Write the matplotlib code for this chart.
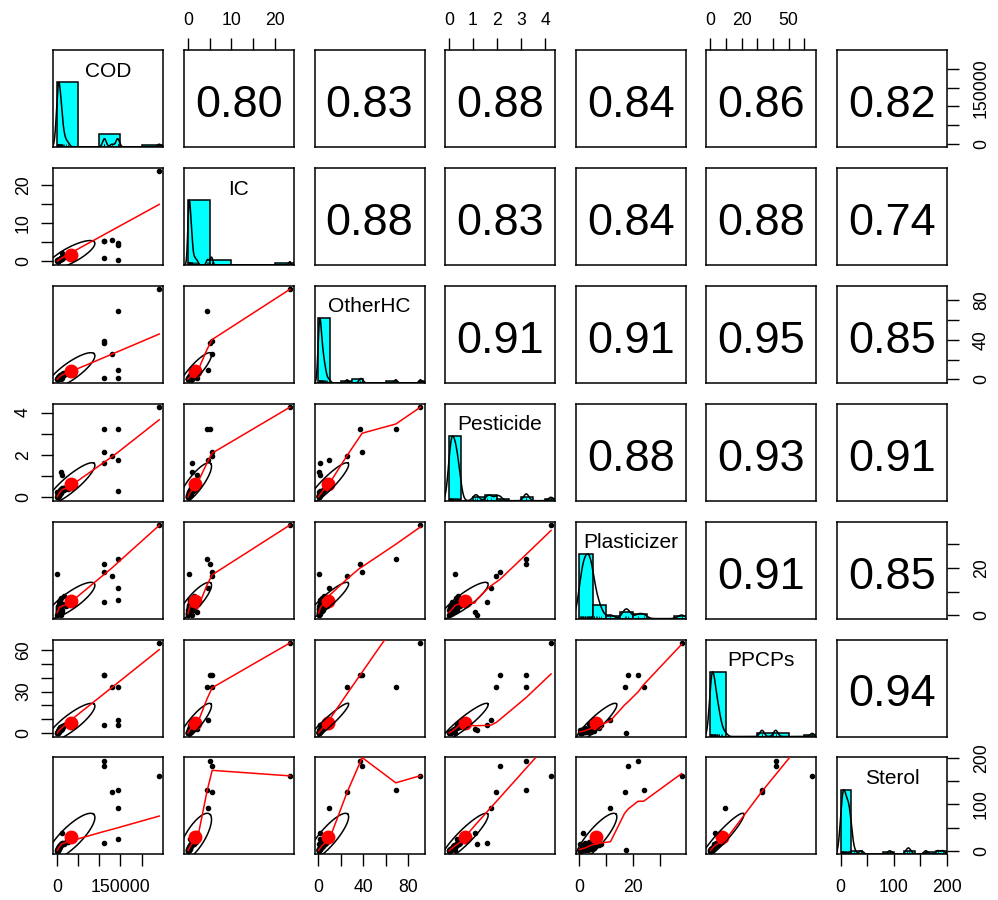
import numpy as np
import matplotlib
matplotlib.use("Agg")
import matplotlib.pyplot as plt
from matplotlib.patches import Rectangle

plt.rcParams['font.family'] = ['Liberation Sans', 'DejaVu Sans']

names = ['COD', 'IC', 'OtherHC', 'Pesticide', 'Plasticizer', 'PPCPs', 'Sterol']

# one value per sample
# first 11 are the samples that stand out, the rest sit in the cluster near 0
cod = [242000, 112000, 112000, 112000, 130000, 143500, 143500, 143500, 500, 11000, 9000,
       400, 700, 900, 1100, 1300, 1600, 1800, 2000, 2200, 2500, 2700, 3000, 3300, 3600,
       4000, 4400, 4800, 5200, 5700, 6200, 6800, 7400, 8100, 8900, 9800, 11000, 12500,
       14500, 17000, 21000, 26000]
ic = [23.5, 5.2, 5.45, 0.85, 5.6, 4.4, 4.7, 0.45, 0.3, 2.2, 0.9,
      0.02, 0.05, 0.12, 0.08, 0.18, 0.10, 0.22, 0.15, 0.30, 0.20, 0.35, 0.26, 0.40, 0.33,
      0.45, 0.28, 0.52, 0.38, 0.60, 0.48, 0.70, 0.55, 0.80, 0.65, 0.95, 0.75, 1.10,
      0.90, 1.30, 1.55, 1.80]
otherhc = [91, 37, 39, 1.7, 25.5, 69, 9.6, 1.7, 0.5, 1.0, 0.4,
           0.1, 0.3, 0.2, 0.6, 0.4, 0.9, 0.5, 1.2, 0.8, 1.5, 0.7, 1.9, 1.1, 2.3,
           1.4, 2.8, 1.7, 3.2, 2.1, 3.7, 2.5, 4.2, 2.9, 4.8, 3.4, 5.5, 3.9,
           6.3, 4.6, 7.4, 5.8]
pesticide = [4.25, 3.22, 2.13, 1.60, 1.97, 3.22, 1.74, 0.32, 0.26, 1.07, 1.18,
             0.01, 0.03, 0.05, 0.02, 0.07, 0.09, 0.04, 0.12, 0.06, 0.15, 0.10, 0.18, 0.08, 0.21,
             0.14, 0.24, 0.11, 0.27, 0.19, 0.30, 0.16, 0.34, 0.22, 0.38, 0.28, 0.42, 0.32,
             0.46, 0.36, 0.48, 0.40]
plasticizer = [38.0, 21.8, 18.2, 5.5, 16.8, 23.9, 11.6, 6.7, 17.5, 1.3, 0.2,
               0.3, 1.1, 0.6, 2.3, 1.5, 0.9, 3.1, 2.0, 4.2, 1.3, 2.7, 3.6, 0.8, 4.6,
               2.5, 3.3, 5.6, 1.8, 3.9, 4.8, 2.9, 6.4, 3.5, 4.4, 7.3, 4.0, 2.2,
               4.7, 8.2, 3.8, 4.5]
ppcps = [65.0, 41.7, 41.7, 5.5, 33.0, 33.0, 9.6, 5.5, 0.1, 3.0, 2.4,
         0.1, 0.4, 0.2, 0.5, 0.9, 0.3, 0.7, 1.1, 0.6, 1.4, 0.8, 1.7, 1.0, 2.1,
         1.3, 2.6, 1.6, 3.0, 2.0, 3.5, 2.4, 4.1, 2.8, 4.6, 3.3, 5.2, 3.8,
         4.4, 5.9, 6.8, 7.6]
sterol = [161, 193, 183, 18, 126, 130, 93, 25, 3, 39, 16,
          0.8, 2.1, 1.4, 3.2, 2.6, 4.8, 1.9, 5.5, 3.9, 6.3, 4.4, 7.1, 5.0, 8.2,
          6.8, 9.4, 7.7, 10.6, 8.9, 12.0, 11.2, 13.5, 12.8, 15.0, 14.1, 16.4, 17.3,
          18.2, 15.8, 19.0, 19.6]

data = [np.array(v, float) for v in (cod, ic, otherhc, pesticide, plasticizer, ppcps, sterol)]

# correlations printed in the upper panels
corr = [[None, '0.80', '0.83', '0.88', '0.84', '0.86', '0.82'],
        [None, None, '0.88', '0.83', '0.84', '0.88', '0.74'],
        [None, None, None, '0.91', '0.91', '0.95', '0.85'],
        [None, None, None, None, '0.88', '0.93', '0.91'],
        [None, None, None, None, None, '0.91', '0.85'],
        [None, None, None, None, None, None, '0.94'],
        [None] * 7]

# axis ticks and their labels (top/left labels can differ from bottom/right)
ticks = [[0, 50000, 100000, 150000, 200000],
         [0, 5, 10, 15, 20],
         [0, 20, 40, 60, 80],
         [0, 1, 2, 3, 4],
         [0, 10, 20, 30],
         [0, 10, 20, 30, 40, 50, 60],
         [0, 50, 100, 150, 200]]
labels_br = [['0', '', '', '150000', ''],
             ['0', '', '10', '', '20'],
             ['0', '', '40', '', '80'],
             ['0', '1', '2', '3', '4'],
             ['0', '', '20', ''],
             ['0', '', '20', '', '', '50', ''],
             ['0', '', '100', '', '200']]
labels_top = labels_br
labels_left = [None,
               ['0', '', '10', '', '20'],
               None,
               ['0', '', '2', '', '4'],
               None,
               ['0', '', '', '30', '', '', '60'],
               None]


def pretty(lo, hi, n):
    cell = (hi - lo) / n
    unit = 10 ** np.floor(np.log10(cell))
    U = unit
    if 2 * unit - cell < 1.5 * (cell - U):
        U = 2 * unit
        if 5 * unit - cell < 2.75 * (cell - U):
            U = 5 * unit
            if 10 * unit - cell < 1.5 * (cell - U):
                U = 10 * unit
    ns = np.floor(lo / U + 1e-7)
    nu = np.ceil(hi / U - 1e-7)
    return np.arange(ns, nu + 0.5) * U


def bw_nrd0(x):
    sd = np.std(x, ddof=1)
    q75, q25 = np.percentile(x, [75, 25])
    lo = min(sd, (q75 - q25) / 1.34)
    if lo == 0:
        lo = sd
    return 0.9 * lo * len(x) ** -0.2


def _lowest(x, y, xs, nleft, nright, rw, userw, fallback):
    n = len(x)
    rng = x[-1] - x[0]
    h = max(xs - x[nleft], x[nright] - xs)
    h9, h1 = 0.999 * h, 0.001 * h
    w = np.zeros(n)
    a = 0.0
    j = nleft
    while j < n:
        r = abs(x[j] - xs)
        if r <= h9:
            w[j] = 1.0 if r <= h1 else (1 - (r / h) ** 3) ** 3
            if userw:
                w[j] *= rw[j]
            a += w[j]
        elif x[j] > xs:
            break
        j += 1
    sl = slice(nleft, j)
    if a <= 0:
        return fallback
    w[sl] /= a
    if h > 0:
        a = np.sum(w[sl] * x[sl])
        b = xs - a
        c = np.sum(w[sl] * (x[sl] - a) ** 2)
        if np.sqrt(c) > 0.001 * rng:
            b /= c
            w[sl] = w[sl] * (b * (x[sl] - a) + 1)
    return np.sum(w[sl] * y[sl])


def lowess(x, y, f=2 / 3, iters=3):
    # port of R's clowess
    order = np.argsort(x, kind='stable')
    x = x[order]
    y = y[order]
    n = len(x)
    ns = max(2, min(n, int(f * n + 1e-7)))
    delta = 0.01 * (x[-1] - x[0])
    rw = np.ones(n)
    ys = np.zeros(n)
    for it in range(iters + 1):
        nleft, nright, last, i = 0, ns - 1, -1, 0
        while True:
            if nright < n - 1:
                if x[i] - x[nleft] > x[nright + 1] - x[i]:
                    nleft += 1
                    nright += 1
                    continue
            ys[i] = _lowest(x, y, x[i], nleft, nright, rw, it > 0, y[i])
            if last < i - 1:
                denom = x[i] - x[last]
                for k in range(last + 1, i):
                    alpha = (x[k] - x[last]) / denom
                    ys[k] = alpha * ys[i] + (1 - alpha) * ys[last]
            last = i
            cut = x[last] + delta
            i = last + 1
            while i < n:
                if x[i] > cut:
                    break
                if x[i] == x[last]:
                    ys[i] = ys[last]
                    last = i
                i += 1
            i = max(last + 1, i - 1)
            if last >= n - 1:
                break
        if it == iters:
            break
        res = np.abs(y - ys)
        cmad = 6 * np.median(res)
        if cmad < 1e-7 * np.mean(res):
            break
        rw = np.where(res <= 0.001 * cmad, 1.0,
                      np.where(res <= 0.999 * cmad, (1 - (res / cmad) ** 2) ** 2, 0.0))
    return x, ys


def padded(v):
    lo, hi = v.min(), v.max()
    d = hi - lo
    return lo - 0.04 * d, hi + 0.04 * d


lims = [padded(v) for v in data]
nvar = len(names)
n = len(data[0])

fig = plt.figure(figsize=(9.98, 9.0), dpi=100)
LW = 1.1

for i in range(nvar):
    for j in range(nvar):
        left = 53.3 + 130.6 * j
        top = 50 + 117.9 * i
        ax = fig.add_axes([left / 998, 1 - (top + 97) / 900, 110 / 998, 97 / 900])
        ax.set_xlim(lims[j])
        ax.set_ylim(lims[i])
        for s in ax.spines.values():
            s.set_linewidth(LW)
        ax.set_xticks([])
        ax.set_yticks([])

        if i == j:
            v = data[i]
            ylo, yhi = lims[i]
            sc = (yhi - ylo) / 1.5
            nclass = int(np.ceil(np.log2(n) + 1))
            br = pretty(v.min(), v.max(), nclass)
            idx = np.clip(np.searchsorted(br, v, side='left') - 1, 0, len(br) - 2)
            counts = np.bincount(idx, minlength=len(br) - 1)
            hts = counts / counts.max()
            for k in range(len(br) - 1):
                ax.add_patch(Rectangle((br[k], ylo), br[k + 1] - br[k], hts[k] * sc,
                                       facecolor='cyan', edgecolor='black', lw=LW))
            bw = bw_nrd0(v)
            g = np.linspace(v.min() - 3 * bw, v.max() + 3 * bw, 512)
            d = np.exp(-0.5 * ((g[:, None] - v[None, :]) / bw) ** 2).sum(axis=1)
            d = d / d.max()
            ax.plot(g, ylo + d * sc, color='black', lw=LW)
            ax.vlines(v, ylo, ylo + 0.03 * (yhi - ylo), color='black', lw=0.5)
            ax.text(0.5, 0.725, names[i], transform=ax.transAxes, ha='center',
                    va='baseline', fontsize=15)
        elif i > j:
            x, y = data[j], data[i]
            ax.plot(x, y, 'o', ms=3, color='black', zorder=2)
            xm, ym = x.mean(), y.mean()
            xs, ys = x.std(ddof=1), y.std(ddof=1)
            r = float(corr[j][i])
            ax.plot(xm, ym, 'o', ms=9, color='red', zorder=3)
            ang = np.arange(52) * 2 * np.pi / 51
            th = np.sign(r) / np.sqrt(2)
            shape = np.diag([np.sqrt(1 + r), np.sqrt(1 - r)]) @ np.array([[th, th], [-th, th]])
            e = np.column_stack([np.cos(ang), np.sin(ang)]) @ shape
            ax.plot(e[:, 0] * xs + xm, e[:, 1] * ys + ym, color='black', lw=LW, zorder=4)
            lx, ly = lowess(x, y)
            ax.plot(lx, ly, color='red', lw=LW, zorder=5)
        else:
            ax.text(0.5, 0.31, corr[i][j], transform=ax.transAxes, ha='center',
                    va='baseline', fontsize=32.5)

        tk = dict(length=8.3, width=1.0, labelsize=12.7, direction='out')
        if i == 0 and j % 2 == 1:
            ax.set_xticks(ticks[j])
            ax.set_xticklabels(labels_top[j])
            ax.tick_params(axis='x', top=True, bottom=False, labeltop=True,
                           labelbottom=False, pad=6.5, **tk)
        if i == nvar - 1 and j % 2 == 0:
            ax.set_xticks(ticks[j])
            ax.set_xticklabels(labels_br[j])
            ax.tick_params(axis='x', pad=9.5, **tk)
        if j == 0 and i % 2 == 1:
            ax.set_yticks(ticks[i])
            ax.set_yticklabels(labels_left[i], rotation=90, va='center')
            ax.tick_params(axis='y', pad=7, **tk)
        if j == nvar - 1 and i % 2 == 0:
            ax.set_yticks(ticks[i])
            ax.set_yticklabels(labels_br[i], rotation=90, va='center')
            ax.tick_params(axis='y', left=False, right=True, labelleft=False,
                           labelright=True, pad=10.5, **tk)
        ax.set_xlim(lims[j])
        ax.set_ylim(lims[i])

fig.savefig('out.png', dpi=100, facecolor='white')
